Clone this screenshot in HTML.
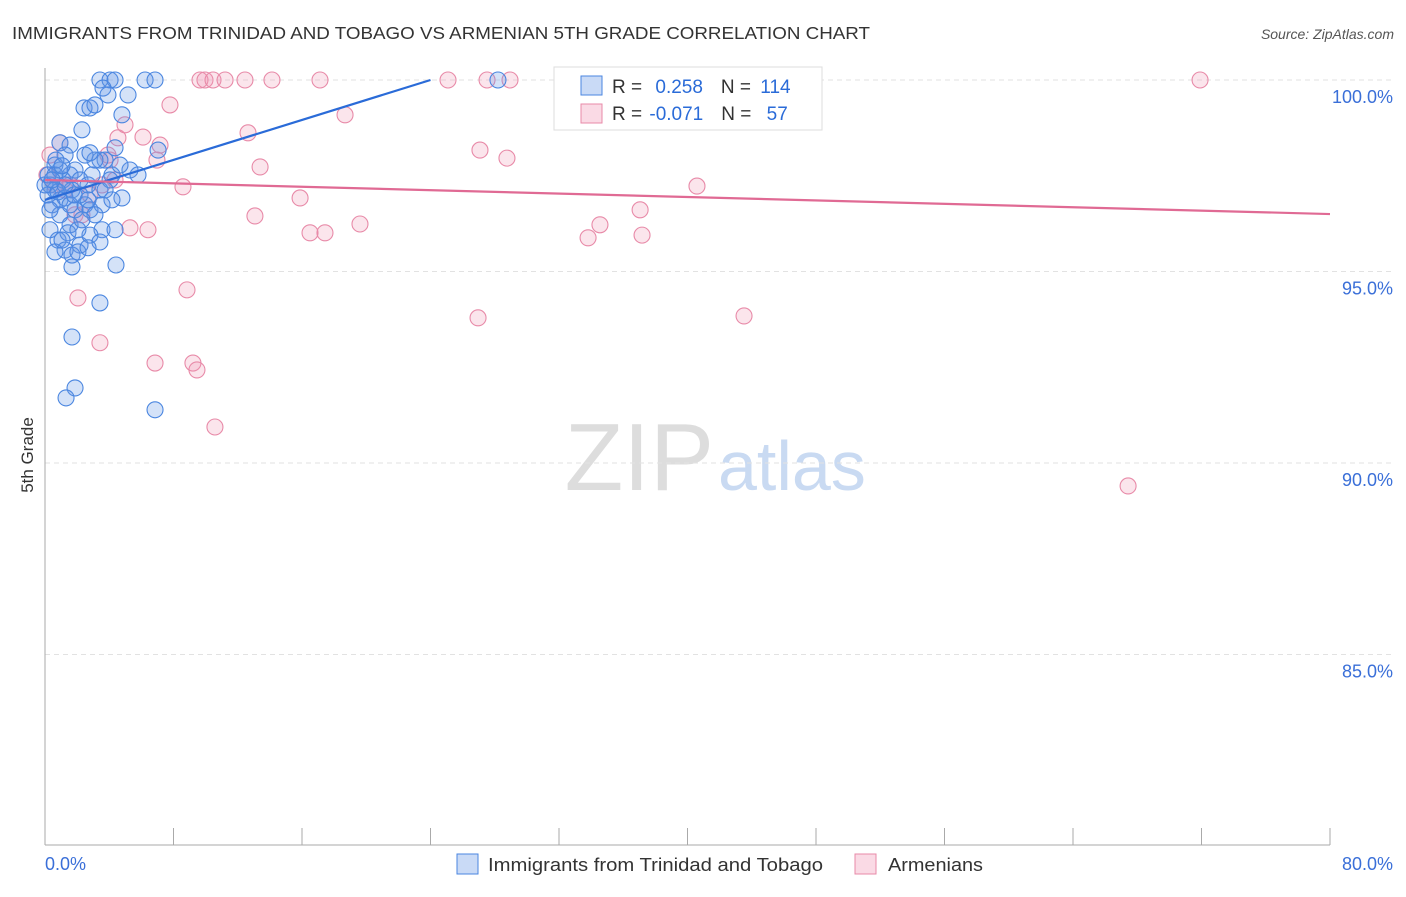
<!DOCTYPE html>
<html><head><meta charset="utf-8"><style>
body{margin:0;background:#fff;font-family:"Liberation Sans",sans-serif;}
svg text{font-family:"Liberation Sans",sans-serif;}
</style></head><body>
<svg width="1406" height="892" viewBox="0 0 1406 892">
<text x="12" y="39" font-size="17.5" fill="#333" textLength="858" lengthAdjust="spacingAndGlyphs">IMMIGRANTS FROM TRINIDAD AND TOBAGO VS ARMENIAN 5TH GRADE CORRELATION CHART</text>
<text x="1394" y="39" font-size="14" fill="#555" font-style="italic" text-anchor="end">Source: ZipAtlas.com</text>
<text x="33" y="455" font-size="17" fill="#333" text-anchor="middle" transform="rotate(-90 33 455)">5th Grade</text>
<g><text x="714" y="490" font-size="96" font-family="Liberation Serif" fill="#ddd" text-anchor="end">ZIP</text><text x="718" y="490" font-size="70" fill="#c9daf2">atlas</text></g>
<g id="grid"></g>
<line x1="45" y1="68" x2="45" y2="845" stroke="#aaa"/>
<line x1="45" y1="845" x2="1330" y2="845" stroke="#aaa"/>
<g id="ticks"></g>
<g id="pts"></g>
<g id="lines"></g>
<g>
<rect x="554" y="67" width="268" height="63" fill="#fff" stroke="#ddd"/>
<rect x="581" y="76" width="21" height="19" fill="rgba(100,150,230,0.35)" stroke="#4a86e0"/>
<rect x="581" y="104" width="21" height="19" fill="rgba(240,150,180,0.35)" stroke="#e88aa8"/>
<text x="612" y="93" font-size="19" fill="#333">R = <tspan fill="#2a6bd8" dx="8">0.258</tspan><tspan fill="#333" dx="18">N = </tspan><tspan fill="#2a6bd8" dx="4">114</tspan></text>
<text x="612" y="120" font-size="19" fill="#333">R = <tspan fill="#2a6bd8" dx="2">-0.071</tspan><tspan fill="#333" dx="18">N = </tspan><tspan fill="#2a6bd8" dx="10">57</tspan></text>
</g>
<g>
<rect x="457" y="854" width="21" height="20" fill="rgba(100,150,230,0.35)" stroke="#4a86e0"/>
<text x="488" y="871" font-size="18" fill="#333" textLength="335" lengthAdjust="spacingAndGlyphs">Immigrants from Trinidad and Tobago</text>
<rect x="855" y="854" width="21" height="20" fill="rgba(240,150,180,0.35)" stroke="#e88aa8"/>
<text x="888" y="871" font-size="18" fill="#333" textLength="95" lengthAdjust="spacingAndGlyphs">Armenians</text>
</g>
</svg>
<script>
const yTicks=[100,95,90,85];
const xTickLabels=["0.0%","80.0%"];
const blueX=[3.42,4.05,4.36,6.23,6.85,28.2,3.61,3.92,5.17,4.79,2.43,2.80,3.11,2.30,4.36,3.74,0.93,1.56,1.25,0.62,1.87,1.12,0.31,0.62,0.93,0.19,0.44,1.56,2.18,2.68,3.42,2.49,1.87,2.80,3.55,0.93,1.56,3.11,3.55,4.36,4.79,5.29,5.79,4.17,3.42,2.93,0.81,1.25,2.18,2.80,1.68,2.05,1.43,0.62,1.06,3.42,1.68,4.42,3.42,1.68,1.87,1.31,6.85,7.04,0.31,0,0.19,0.62,0.81,1.25,1.68,2.18,2.68,4.05,4.67,3.11,2.49,2.80,3.74,4.17,0.93,0.31,2.05,2.68,1.56,1.25,0.44,0.68,1.06,1.81,2.30];
const blueY=[100,100,100,100,100,100,99.79,99.61,99.61,99.09,99.27,99.27,99.35,98.70,98.23,97.91,98.36,98.30,98.04,97.78,97.65,97.39,97.26,97.13,96.87,97.0,96.74,97.52,97.39,97.26,97.13,96.74,96.61,96.61,96.74,96.48,96.22,96.48,96.09,96.09,96.92,97.65,97.52,97.52,97.91,97.52,95.82,95.56,95.69,95.95,95.43,95.51,96.01,95.51,95.82,95.77,95.12,95.17,94.18,93.29,91.96,91.70,91.39,98.17,96.09,97.26,97.52,97.52,97.08,96.92,97.13,97.0,96.87,97.39,97.78,97.91,98.04,98.10,97.13,96.87,97.65,96.61,96.09,95.62,96.74,97.26,97.39,97.91,97.76,97.0,96.35];
const pinkX=[0.31,0.93,0.12,0.62,1.25,1.56,1.87,2.30,2.80,3.55,4.05,4.36,4.54,4.98,3.92,6.10,7.16,6.97,7.78,8.59,8.84,9.21,9.46,6.85,2.05,3.42,5.29,6.41,9.65,9.96,10.46,11.21,12.45,14.13,17.12,25.09,27.52,28.95,32.69,71.91,12.64,13.39,13.07,15.88,16.50,17.43,18.68,19.61,10.58,26.96,27.08,28.76,33.81,34.55,37.05,37.17,40.59,43.52,67.43];
const pinkY=[98.04,98.36,97.52,97.26,97.13,97.26,96.48,96.48,97.0,97.26,97.91,97.39,98.49,98.83,98.04,98.51,98.30,97.91,99.35,97.21,94.52,92.61,92.43,92.61,94.31,93.14,96.14,96.09,100,100,100,100,100,100,100,100,100,100,100,100,98.62,97.73,96.45,96.92,96.01,96.01,99.09,96.24,90.94,93.79,98.17,97.96,95.88,96.22,96.61,95.95,97.23,93.84,89.40];
const blueTrend=[[0,96.87],[24.0,100]];
const pinkTrend=[[0,97.39],[80,96.50]];
const NS="http://www.w3.org/2000/svg";
const X0=45,X1=1330,Y100=80,PXPER=38.3;
function sx(v){return X0+(v/80)*(X1-X0);}
function sy(v){return Y100+(100-v)*PXPER;}
function mk(t,a,p){const e=document.createElementNS(NS,t);for(const k in a)e.setAttribute(k,a[k]);p.appendChild(e);return e;}
const grid=document.getElementById('grid'),ticks=document.getElementById('ticks');
yTicks.forEach(v=>{
  const l=mk('line',{x1:45,x2:1395,y1:sy(v),y2:sy(v),stroke:'#e2e2e2','stroke-dasharray':'5,4'},grid);
  
  
  const t=mk('text',{x:1393,y:sy(v)+23,'font-size':18,fill:'#3a6fd8','text-anchor':'end'},ticks);
  t.textContent=v.toFixed(1)+'%';
  
  
});
for(let i=0;i<=10;i++){
  const l=mk('line',{x1:sx(i*8),x2:sx(i*8),y1:828,y2:845,stroke:'#aaa'},ticks);
  
  
}
xTickLabels.forEach((s,i)=>{
  const t=mk('text',{x:i?1393:45,y:870,'font-size':18,fill:'#3a6fd8','text-anchor':i?'end':'start'},ticks);
  t.textContent=s;
  
  
});
const pts=document.getElementById('pts');
pinkX.forEach((x,i)=>{
  const c=mk('circle',{cx:sx(x),cy:sy(pinkY[i]),r:8,fill:'rgba(240,150,180,0.25)',stroke:'#e88aa8','stroke-width':1.1},pts);
  
  
});
blueX.forEach((x,i)=>{
  const c=mk('circle',{cx:sx(x),cy:sy(blueY[i]),r:8,fill:'rgba(100,150,230,0.28)',stroke:'#4a86e0','stroke-width':1.1},pts);
  
  
});
const lines=document.getElementById('lines');
const bl=mk('line',{x1:sx(blueTrend[0][0]),y1:sy(blueTrend[0][1]),x2:sx(blueTrend[1][0]),y2:sy(blueTrend[1][1]),stroke:'#2a6bd8','stroke-width':2.2},lines);


const pl=mk('line',{x1:sx(pinkTrend[0][0]),y1:sy(pinkTrend[0][1]),x2:sx(pinkTrend[1][0]),y2:sy(pinkTrend[1][1]),stroke:'#e06a94','stroke-width':2.2},lines);


</script>
</body></html>
